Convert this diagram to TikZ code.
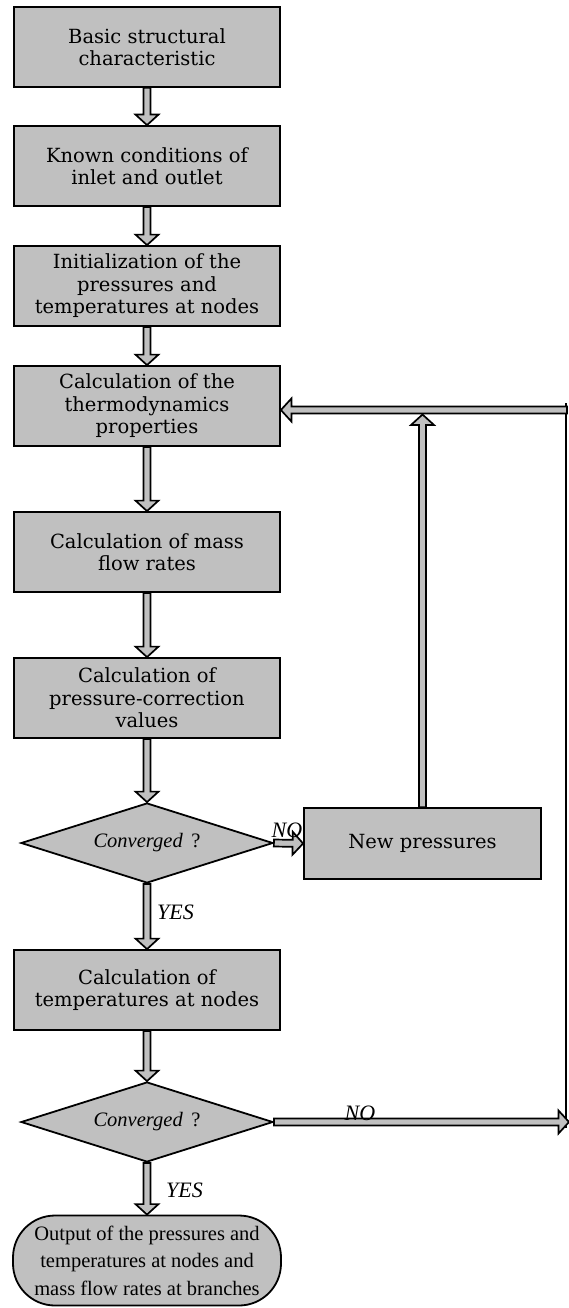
\documentclass[tikz,border=0pt]{standalone}
\usepackage{fontspec}
\setmainfont{DejaVu Serif}
\newfontfamily\tmsfont{Liberation Serif}
\usetikzlibrary{shapes.geometric,calc}
\definecolor{boxgray}{RGB}{192,192,192}
\def\arrSW{3.5pt}\def\arrHW{11.5pt}\def\arrHL{10.5pt}
% block arrow from #1 to #2 (named points)
\newcommand{\barr}[2]{%
  \draw[blockarrow] let \p1=(#1), \p2=(#2),
     \n1={veclen(\x2-\x1,\y2-\y1)}, \n2={atan2(\y2-\y1,\x2-\x1)} in
     ($(\p1)+(\n2+90:\arrSW)$) -- ++(\n2:{\n1-\arrHL}) -- ++(\n2+90:{\arrHW-\arrSW}) -- (\p2)
     -- ($(\p2)+(\n2+180:\arrHL)+(\n2-90:\arrHW)$) -- ++(\n2+90:{\arrHW-\arrSW})
     -- ++(\n2+180:{\n1-\arrHL}) -- cycle;}
\begin{document}
\begin{tikzpicture}[x=1pt,y=-1pt,
  box/.style={draw, line width=1.8pt, fill=boxgray, minimum width=266pt, minimum height=80pt,
    inner sep=0pt, align=center, font=\fontsize{19.5}{22.5}\selectfont},
  dia/.style={diamond, aspect=3.15, draw, line width=1.8pt, fill=boxgray, minimum width=252pt,
    minimum height=80pt, inner sep=0pt, font=\tmsfont\fontsize{20.5}{22}\selectfont},
  term/.style={draw, line width=1.8pt, fill=boxgray, rounded corners=42pt, minimum width=268pt,
    minimum height=90pt, inner sep=0pt, align=center, font=\tmsfont\fontsize{20.5}{27.5}\selectfont},
  lbl/.style={font=\tmsfont\itshape\fontsize{22}{24}\selectfont, inner sep=0pt},
  blockarrow/.style={draw=black, line width=1.7pt, fill=boxgray, line join=miter},
  backline/.style={draw=black, line width=2.2pt}]
\useasboundingbox (0,0) rectangle (568,1308);

\node[box] (b1) at (147,47) {Basic structural\\characteristic};
\node[box] (b2) at (147,166) {Known conditions of\\inlet and outlet};
\node[box] (b3) at (147,286) {Initialization of the\\pressures and\\temperatures at nodes};
\node[box] (b4) at (147,406) {Calculation of the\\thermodynamics\\properties};
\node[box] (b5) at (147,552) {Calculation of mass\\flow rates};
\node[box] (b6) at (147,698) {Calculation of\\pressure-correction\\values};
\node[dia] (d1) at (147,843) {\textit{Converged}\, ?};
\node[box, minimum width=237pt, minimum height=71pt] (np) at (422.5,843.5) {New pressures};
\node[box] (b7) at (147,990) {Calculation of\\temperatures at nodes};
\node[dia] (d2) at (147,1122) {\textit{Converged}\, ?};
\node[term] (out) at (147,1260.5) {Output of the pressures and\\temperatures at nodes and\\mass flow rates at branches};

\coordinate (ret) at (567,410);
\coordinate (upend) at ($(np.north |- ret)+(0,4.5)$);
\coordinate (r2) at (569,1122);
\coordinate (vtop) at (566,403);
\coordinate (vbot) at (566,1128);

\draw[backline] (vbot) -- (vtop);

\barr{b1.south}{b2.north}
\barr{b2.south}{b3.north}
\barr{b3.south}{b4.north}
\barr{b4.south}{b5.north}
\barr{b5.south}{b6.north}
\barr{b6.south}{d1.north}
\barr{d1.south}{b7.north}
\barr{b7.south}{d2.north}
\barr{d2.south}{out.north}
\barr{d1.east}{np.west}
\barr{np.north}{upend}
\barr{ret}{b4.east |- ret}
\barr{d2.east}{r2}

\node[lbl] (no1) at (287,830) {NO};
\node[lbl] (yes1) at (175.5,912) {YES};
\node[lbl] (no2) at (360,1113) {NO};
\node[lbl] (yes2) at (184.5,1190) {YES};
\end{tikzpicture}
\end{document}
